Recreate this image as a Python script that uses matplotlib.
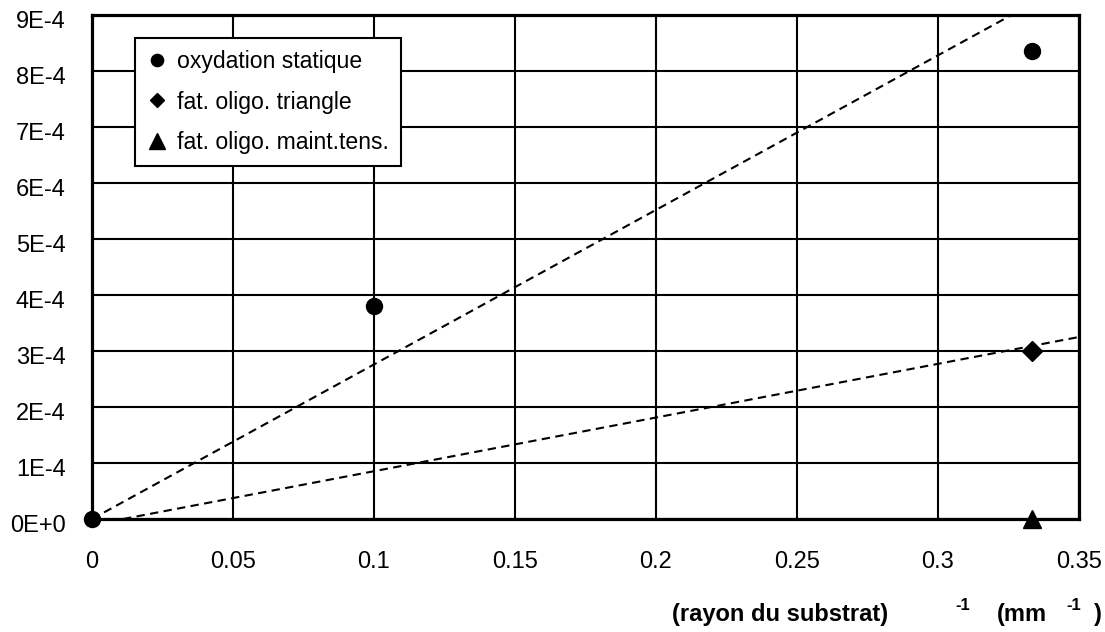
import matplotlib
matplotlib.use("Agg")
import matplotlib.pyplot as plt
from matplotlib.lines import Line2D
from matplotlib.transforms import ScaledTranslation

plt.rcParams['font.family'] = ['Liberation Sans', 'DejaVu Sans']

# Data
static_x = [0.0, 0.1, 0.3333]
static_y = [0.0, 3.8e-4, 8.35e-4]
triangle_x = [0.3333]
triangle_y = [3.0e-4]
maint_x = [0.3333]
maint_y = [0.0]

trend_static_x = [0.0, 0.35]
trend_static_y = [0.0, 9.66e-4]
trend_tri_x = [0.011, 0.35]
trend_tri_y = [0.0, 3.25e-4]

x_ticks = [0, 0.05, 0.1, 0.15, 0.2, 0.25, 0.3, 0.35]
x_ticklabels = ['0', '0.05', '0.1', '0.15', '0.2', '0.25', '0.3', '0.35']
y_ticks = [0, 1e-4, 2e-4, 3e-4, 4e-4, 5e-4, 6e-4, 7e-4, 8e-4, 9e-4]
y_ticklabels = ['0E+0', '1E-4', '2E-4', '3E-4', '4E-4', '5E-4', '6E-4', '7E-4', '8E-4', '9E-4']
legend_labels = ['oxydation statique', 'fat. oligo. triangle', 'fat. oligo. maint.tens.']

W, H = 1105, 632
fig = plt.figure(figsize=(W / 100, H / 100), dpi=100)
ax = fig.add_axes([92 / W, 1 - 519 / H, (1079 - 92) / W, (519 - 15) / H])

ax.set_xlim(0, 0.35)
ax.set_ylim(0, 9e-4)
ax.set_xticks(x_ticks)
ax.set_xticklabels(x_ticklabels)
ax.set_yticks(y_ticks)
ax.set_yticklabels(y_ticklabels)
ax.tick_params(length=0, labelsize=17)
ax.tick_params(axis='x', pad=23)
ax.tick_params(axis='y', pad=19)
offset = ScaledTranslation(0, -4.5 / 100, fig.dpi_scale_trans)
for lab in ax.get_yticklabels():
    lab.set_transform(lab.get_transform() + offset)
ax.grid(True, color='black', linewidth=1.5)
ax.set_axisbelow(True)
for s in ax.spines.values():
    s.set_linewidth(2.3)
    s.set_zorder(3)

dash = (4, 2.6)
ax.plot(trend_static_x, trend_static_y, color='black', linewidth=1.5, dashes=dash, zorder=4)
ax.plot(trend_tri_x, trend_tri_y, color='black', linewidth=1.5, dashes=dash, zorder=4)

ax.plot(maint_x, maint_y, linestyle='none', marker='^', markersize=13.5, color='black', zorder=5, clip_on=False)
ax.plot(triangle_x, triangle_y, linestyle='none', marker='D', markersize=10, color='black', zorder=5, clip_on=False)
ax.plot(static_x, static_y, linestyle='none', marker='o', markersize=11.5, color='black', zorder=6, clip_on=False)

handles = [
    Line2D([], [], linestyle='none', marker='o', markersize=8.8, color='black'),
    Line2D([], [], linestyle='none', marker='D', markersize=7.6, color='black'),
    Line2D([], [], linestyle='none', marker='^', markersize=11, color='black'),
]
leg = fig.legend(handles, legend_labels, loc='upper left',
                 bbox_to_anchor=(135 / W, 1 - 38 / H), bbox_transform=fig.transFigure,
                 borderaxespad=0, fancybox=False, framealpha=1, edgecolor='black',
                 fontsize=16.6, handlelength=0.85, handletextpad=0.42, labelspacing=0.74,
                 borderpad=0.54)
leg.get_frame().set_linewidth(1.5)
leg.set_zorder(10)

# x label pieces
fs_main, fs_sup = 17, 12
fig.text(780.5 / W, 1 - 621 / H, '(rayon du substrat)', ha='center', va='baseline',
         fontsize=fs_main, fontweight='bold')
fig.text(963 / W, 1 - 610 / H, '-1', ha='center', va='baseline', fontsize=fs_sup, fontweight='bold')
fig.text(1022 / W, 1 - 621 / H, '(mm', ha='center', va='baseline', fontsize=fs_main, fontweight='bold')
fig.text(1074 / W, 1 - 610 / H, '-1', ha='center', va='baseline', fontsize=fs_sup, fontweight='bold')
fig.text(1097.5 / W, 1 - 621 / H, ')', ha='center', va='baseline', fontsize=fs_main, fontweight='bold')

fig.savefig('out.png', dpi=100)
